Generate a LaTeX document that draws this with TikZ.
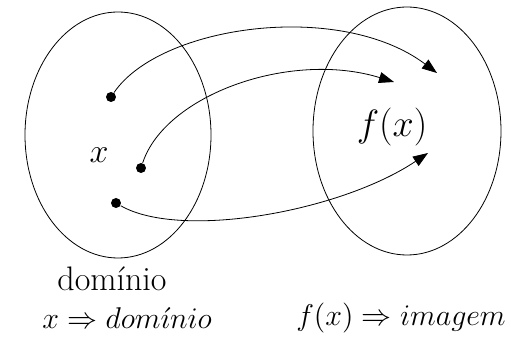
\documentclass[tikz,border=0pt]{standalone}
\usepackage{fix-cm}
\usepackage{tikz}
\usetikzlibrary{arrows.meta,positioning,shapes.geometric}

\begin{document}
\begin{tikzpicture}[x=0.5pt, y=-0.5pt,
    set/.style={draw, thin, ellipse, inner sep=0pt},
    elem/.style={circle, fill=black, inner sep=0pt, minimum size=5pt},
    lbl/.style={font=\fontsize{17}{20}\selectfont, inner sep=0pt},
    eqn/.style={font=\fontsize{15}{18}\selectfont, inner sep=0pt},
    map/.style={-{Triangle[length=7.5pt, width=5.5pt]}, thin}
  ]
    \useasboundingbox (0,0) rectangle (511,342);

    %% -- conjuntos --
    \node[set, minimum width=93pt, minimum height=123pt]  (dom) at (118,135) {};
    \node[set, minimum width=94pt, minimum height=124pt]  (img) at (407,131) {};

    %% -- elementos --
    \node[elem] (a1) at (111,97)  {};
    \node[elem] (a2) at (141,168) {};
    \node[elem] (a3) at (116,203) {};
    \coordinate (b1) at (437,73);
    \coordinate (b2) at (394,82);
    \coordinate (b3) at (428,153);

    %% -- rotulos --
    \node[lbl] (xlbl)  at (99,155)  {$x$};
    \node[lbl, font=\fontsize{19}{22}\selectfont] (fxlbl) at (392,127) {$f(x)$};
    \node[lbl] (domlbl) at (112,279) {domínio};
    \node[eqn] (regdom) at (127,318) {$x \Rightarrow dom\acute{\imath}nio$};
    \node[eqn] (regimg) at (401,318) {$f(x) \Rightarrow imagem$};

    %% -- setas --
    \draw[map] (a1) .. controls (160,25) and (340,0) .. (b1);
    \draw[map] (a2) .. controls (165,95) and (290,50) .. (b2);
    \draw[map] (a3) .. controls (180,240) and (340,212) .. (b3);
\end{tikzpicture}
\end{document}
